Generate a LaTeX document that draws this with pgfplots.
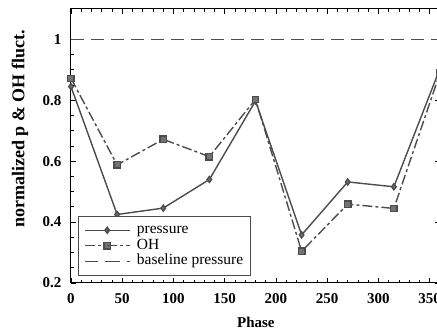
\documentclass[border=0pt]{standalone}
\usepackage{pgfplots}
\pgfplotsset{compat=1.18}
\usepackage{fontspec}
\setmainfont{Liberation Serif}

\definecolor{linegray}{gray}{0.3}
\definecolor{markgray}{gray}{0.45}

\begin{document}
\begin{tikzpicture}
\useasboundingbox (-71pt,-46pt) rectangle (366pt,283pt);
\begin{axis}[
  scale only axis,
  width=369pt, height=274pt,
  xmin=0, xmax=360, ymin=0.2, ymax=1.1,
  xtick={0,50,...,350}, ytick={0.2,0.4,...,1.0},
  minor x tick num=4, minor y tick num=3,
  tick align=inside, ticks=both,
  major tick length=5pt, minor tick length=3pt,
  axis line style={line width=1pt},
  every tick/.style={black, line width=0.8pt},
  /pgf/number format/assume math mode=true,
  ticklabel style={font=\bfseries\fontsize{15}{15}\selectfont},
  xticklabel style={yshift=-7pt},
  yticklabel style={xshift=-6pt},
  xlabel={Phase}, ylabel={normalized p \& OH fluct.},
  xlabel style={font=\bfseries\fontsize{15}{15}\selectfont,
    at={(axis description cs:0.501,-0.142)}, anchor=center},
  ylabel style={font=\bfseries\fontsize{18}{18}\selectfont,
    at={(axis description cs:-0.138,0.562)}, anchor=center},
  legend cell align=left,
  legend style={at={(0.019,0.0255)}, anchor=south west,
    font=\fontsize{15.5}{15.5}\selectfont, draw=linegray, line width=1pt,
    fill=white, row sep=0pt, column sep=5pt,
    inner xsep=6pt, inner ysep=6.5pt,
    nodes={text height=10pt, text depth=3.5pt, inner sep=1pt}},
  legend image code/.code={%
    \draw[#1] (0pt,0pt) -- (22pt,0pt);
    \draw[#1, mark repeat=1] plot coordinates {(22pt,0pt)};
    \draw[#1] (22pt,0pt) -- (45pt,0pt);},
]
% pressure fluctuation, normalized
\addplot[linegray, line width=1.4pt, mark=diamond*, mark size=3pt,
  mark options={fill=markgray, solid}] coordinates {
  (0,0.845) (45,0.425) (90,0.446) (135,0.540) (180,0.798)
  (225,0.358) (270,0.532) (315,0.516) (360,0.905)};
\addlegendentry{pressure}
% OH chemiluminescence fluctuation, normalized
\addplot[linegray, line width=1.4pt, dash pattern=on 10pt off 3pt on 3pt off 3pt,
  mark=square*, mark size=3.2pt, mark options={fill=markgray, solid}] coordinates {
  (0,0.872) (45,0.588) (90,0.672) (135,0.615) (180,0.803)
  (225,0.304) (270,0.459) (315,0.445) (360,0.890)};
\addlegendentry{OH}
% baseline (unforced) pressure level
\addplot[linegray, line width=1.4pt, dash pattern=on 13pt off 7pt, mark=none]
  coordinates {(0,1) (360,1)};
\addlegendentry{baseline pressure}
\end{axis}
\end{tikzpicture}
\end{document}
